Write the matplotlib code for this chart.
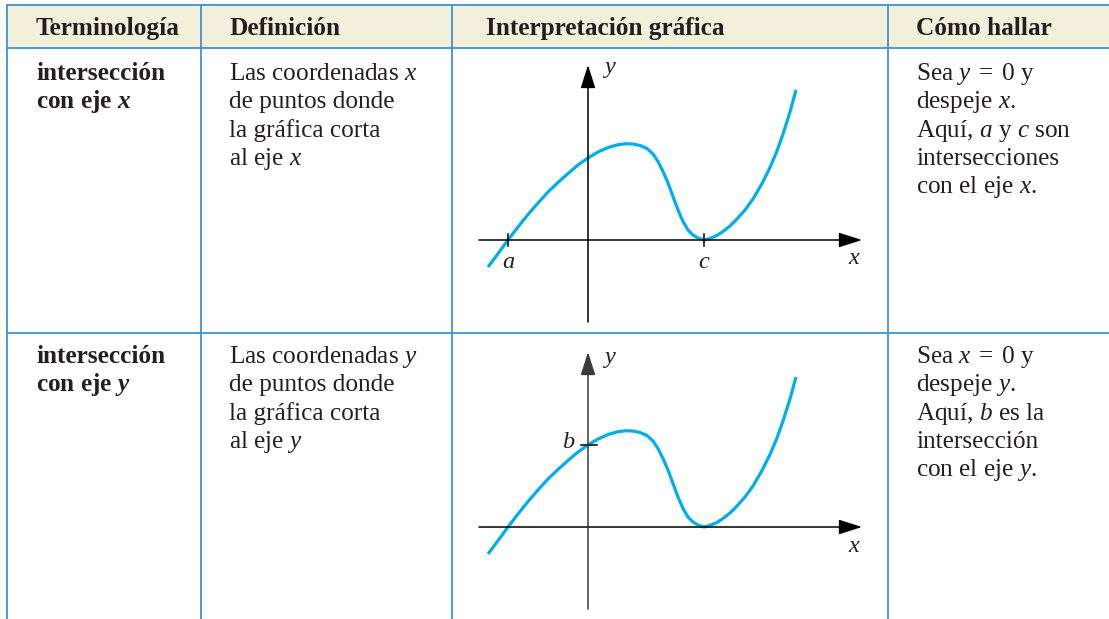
import matplotlib.pyplot as plt

plt.rcParams['font.family'] = ['Liberation Serif', 'DejaVu Serif']
plt.rcParams['mathtext.fontset'] = 'custom'
plt.rcParams['mathtext.rm'] = 'Liberation Serif'
plt.rcParams['mathtext.it'] = 'Liberation Serif:italic'
plt.rcParams['mathtext.bf'] = 'Liberation Serif:bold'
plt.rcParams['mathtext.bfit'] = 'Liberation Serif:italic:bold'

# --- table content ---
headers = ['Terminología', 'Definición', 'Interpretación gráfica', 'Cómo hallar']
terms = [
    ['intersección', r'con eje $\mathbfit{x}$'],
    ['intersección', r'con eje $\mathbfit{y}$'],
]
definitions = [
    [r'Las coordenadas $x$', 'de puntos donde', 'la gráfica corta', r'al eje $x$'],
    [r'Las coordenadas $y$', 'de puntos donde', 'la gráfica corta', r'al eje $y$'],
]
how_to = [
    [r'Sea $y\;=\;0$ y', r'despeje $x$.', r'Aquí, $a$ y $c$ son', 'intersecciones', r'con el eje $x$.'],
    [r'Sea $x\;=\;0$ y', r'despeje $y$.', r'Aquí, $b$ es la', 'intersección', r'con el eje $y$.'],
]

# --- curve (same shape in both sketches) ---
curve_x = [-100, -91, -80, -70, -60, -50, -40, -30, -20, -10, 0, 10, 20, 30, 38,
           45, 52, 59, 65, 70, 75, 80, 85, 90, 95, 100, 105, 110, 116,
           122, 129, 135, 142, 149, 157, 165, 174, 182, 189, 195, 202, 208]
curve_y = [-27, -15, 0, 13, 25.5, 37, 48, 57.5, 66.5, 75, 82, 88, 92.5, 95.3, 96.3,
           96, 94.5, 91.5, 86, 78.5, 68.5, 57, 43.5, 30, 18.5, 10, 5, 2, 0,
           1.5, 4.6, 8.5, 14, 21, 30, 41, 56.5, 72.5, 89, 106, 128, 150]
a_x, c_x, b_y = -80, 116, 82

# --- layout (pixels) ---
W, H = 1109, 619
col_lines = [7, 201, 452, 888]
text_x = [36, 229, 486, 916]
row_tops = [80, 363]
line_gap = 28.3
origins_y = [240, 527]
fs = 18.2

line_blue = '#3d94d1'
header_bg = '#f2efdb'
ink = '#231f20'
cyan = '#00aeef'

fig = plt.figure(figsize=(W / 100, H / 100), dpi=100)
ax = fig.add_axes([0, 0, 1, 1])
ax.set_xlim(0, W)
ax.set_ylim(H, 0)
ax.axis('off')

ax.fill_between([col_lines[0], W], 5, 48, color=header_bg, lw=0)
for yy in [5, 48, 333]:
    ax.plot([col_lines[0], W], [yy, yy], color=line_blue, lw=1.3)
for cx in col_lines:
    ax.plot([cx, cx], [5, H], color=line_blue, lw=1.3)

for hx, label in zip(text_x, headers):
    ax.text(hx, 35, label, fontsize=fs, fontweight='bold', color=ink, va='baseline')

for r in range(2):
    y0 = row_tops[r]
    for i, s in enumerate(terms[r]):
        ax.text(text_x[0], y0 + i * line_gap, s, fontsize=fs, fontweight='bold',
                color=ink, va='baseline')
    for i, s in enumerate(definitions[r]):
        ax.text(text_x[1], y0 + i * line_gap, s, fontsize=fs, color=ink, va='baseline')
    for i, s in enumerate(how_to[r]):
        ax.text(text_x[3], y0 + i * line_gap, s, fontsize=fs, color=ink, va='baseline')

# --- the two sketches ---
lab = dict(fontsize=17.5, style='italic', color=ink, ha='center', va='center')

for k, oy in enumerate(origins_y):
    g = fig.add_axes([470 / W, (H - (oy + 90)) / H, 410 / W, 275 / H])
    g.set_xlim(-118, 292)
    g.set_ylim(-90, 185)
    g.axis('off')
    g.patch.set_alpha(0)
    yaxis_col = 'black' if k == 0 else '#3a3a3a'
    g.annotate('', xy=(274, 0), xytext=(-109, 0),
               arrowprops=dict(arrowstyle='-|>,head_length=1.1,head_width=0.35',
                               mutation_scale=13, lw=1.1, color='black',
                               shrinkA=0, shrinkB=0))
    g.annotate('', xy=(0, 175), xytext=(0, -82),
               arrowprops=dict(arrowstyle='-|>,head_length=1.1,head_width=0.35',
                               mutation_scale=13, lw=1.1, color=yaxis_col,
                               shrinkA=0, shrinkB=0))
    g.text(266, -19, 'x', **lab)
    g.text(21, 172 - 2 * k, 'y', **lab)
    g.plot(curve_x, curve_y, color=cyan, lw=2.3, solid_joinstyle='round',
           solid_capstyle='butt', clip_on=False)
    if k == 0:
        for tx, name in [(a_x, 'a'), (c_x, 'c')]:
            g.plot([tx, tx], [-6, 6], color='black', lw=1.1)
            g.text(tx, -23, name, **lab)
    else:
        g.plot([-7, 9], [b_y, b_y], color='black', lw=1.1)
        g.text(-20, b_y + 2, 'b', **lab)

fig.savefig('out.png', dpi=100)
